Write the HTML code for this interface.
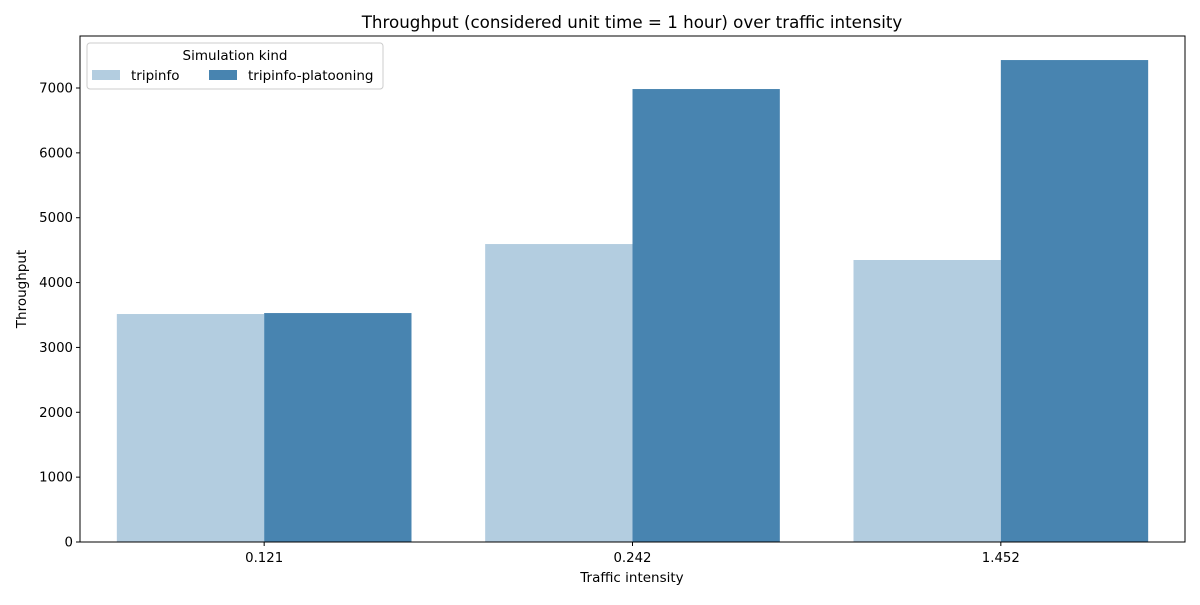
<!DOCTYPE html>
<html><head><meta charset="utf-8"><style>
body{margin:0;background:#fff;}
svg text{font-family:"DejaVu Sans","Liberation Sans",sans-serif;}
</style></head><body>
<svg id="chart" width="1200" height="600" xmlns="http://www.w3.org/2000/svg">
<text x="632" y="28" font-size="16.7" text-anchor="middle">Throughput (considered unit time = 1 hour) over traffic intensity</text>
<g id="bars"></g>
<g id="axes"></g>
<text x="632" y="582" font-size="13.5" text-anchor="middle">Traffic intensity</text>
<text x="26" y="289" font-size="13.5" text-anchor="middle" transform="rotate(-90 26 289)">Throughput</text>
<g>
<rect x="87" y="43" width="296" height="46" rx="3" fill="#fff" fill-opacity="0.8" stroke="#ccc"/>
<text x="235" y="60" font-size="13.5" text-anchor="middle">Simulation kind</text>
<rect x="92" y="70" width="28" height="10" fill="#b3cde0"/>
<text x="131" y="80" font-size="13.5">tripinfo</text>
<rect x="209" y="70" width="28" height="10" fill="#4884b0"/>
<text x="248" y="80" font-size="13.5">tripinfo-platooning</text>
</g>
</svg>
<script>
const categories = ["0.121","0.242","1.452"];
const tripinfo = [3515, 4594, 4348];
const platooning = [3530, 6984, 7431];
const yTicks = [0,1000,2000,3000,4000,5000,6000,7000];
const L=80,R=1185,T=36,B=542;
const yScale=v=>B-v*(B-88)/7000;
const bw=(R-L)/categories.length;
const xCenter=i=>L+bw*(i+0.5);
const NS="http://www.w3.org/2000/svg";
const bars=document.getElementById('bars'), axes=document.getElementById('axes');
function mk(tag,attrs,parent){const e=document.createElementNS(NS,tag);for(const k in attrs)e.setAttribute(k,attrs[k]);parent.appendChild(e);return e;}
const w=bw*0.8/2;
categories.forEach((c,i)=>{
  const x0=xCenter(i)-w;
  let r=mk('rect',{x:x0,y:yScale(tripinfo[i]),width:w,height:B-yScale(tripinfo[i]),fill:'#b3cde0'},bars);
  
  
  r=mk('rect',{x:x0+w,y:yScale(platooning[i]),width:w,height:B-yScale(platooning[i]),fill:'#4884b0'},bars);
  
  
  mk('line',{x1:xCenter(i),x2:xCenter(i),y1:B,y2:B+4,stroke:'#000'},axes);
  const t=mk('text',{x:xCenter(i),y:B+20,'font-size':13.3,'text-anchor':'middle'},axes);
  t.textContent=c;
  
  
});
yTicks.forEach(v=>{
  mk('line',{x1:L-4,x2:L,y1:yScale(v),y2:yScale(v),stroke:'#000'},axes);
  const t=mk('text',{x:L-7,y:yScale(v)+4.5,'font-size':13.3,'text-anchor':'end'},axes);
  t.textContent=v;
  
  
});
const f=mk('rect',{x:L,y:T,width:R-L,height:B-T,fill:'none',stroke:'#000','stroke-width':1},axes);


</script>
</body></html>
